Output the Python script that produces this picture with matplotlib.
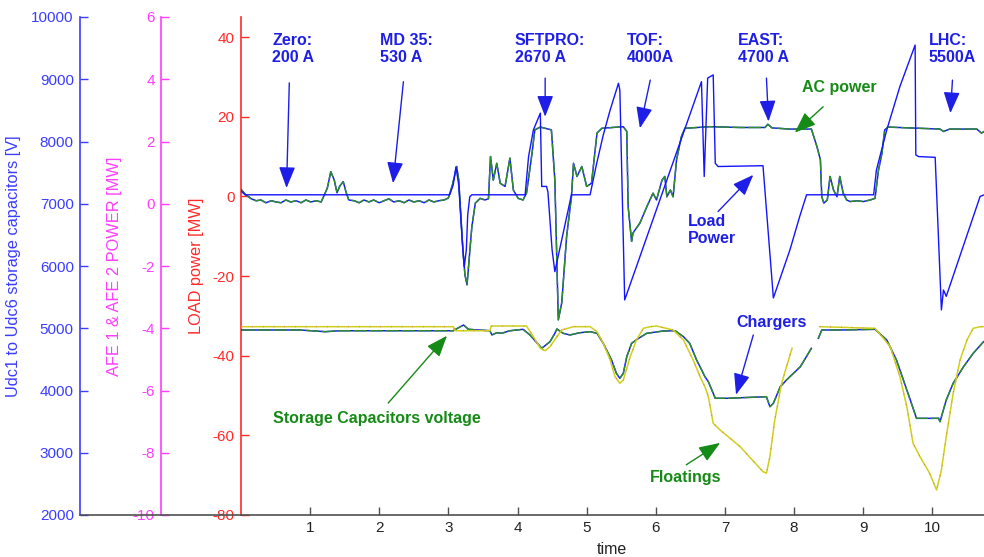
import numpy as np
import matplotlib
matplotlib.use("Agg")
import matplotlib.pyplot as plt
from matplotlib.lines import Line2D

plt.rcParams['font.family'] = ['Liberation Sans', 'DejaVu Sans']
plt.rcParams['axes.unicode_minus'] = False

nan = np.nan

# ---- load power (blue) [MW] vs time ----
load_t = [0.01, 0.06, 3.02, 3.07, 3.11, 3.15, 3.20, 3.23, 3.26, 3.28,
          3.31, 3.34, 4.11, 4.16, 4.23, 4.33, 4.35, 4.42, 4.44, 4.50,
          4.54, 4.78, 5.05, 5.14, 5.24, 5.34, 5.46, 5.48, 5.55, 6.66,
          6.70, 6.75, 6.83, 6.86, 6.90, 7.55, 7.70, 7.94, 8.08, 8.18,
          9.15, 9.19, 9.34, 9.53, 9.75, 9.76, 9.80, 10.04, 10.13, 10.16,
          10.20, 10.69, 10.75]
load_mw = [1.2, 0.4, 0.4, 2.9, 7.4, 2.9, -10.9, -17.7, -13.4, -4.6,
           -0.1, 0.4, 0.4, 10.0, 16.7, 20.9, 2.5, 2.5, 1.1, -13.4,
           -18.9, 0.4, 0.4, 7.9, 15.4, 21.7, 28.4, 26.7, -26.0, 28.8,
           5.0, 29.7, 30.5, 8.3, 7.5, 7.7, -25.5, -13.4, -5.1, 0.4,
           0.4, 6.6, 16.7, 27.6, 38.0, 10.4, 10.0, 9.8, -28.5, -23.5,
           -25.1, 0.0, 0.4]

# ---- AC power (AFE 1 & 2) [MW] vs time ----
ac_t = [0.01, 0.07, 0.15, 0.22, 0.29, 0.36, 0.44, 0.51, 0.58, 0.65,
        0.72, 0.80, 0.87, 0.94, 1.01, 1.09, 1.16, 1.20, 1.25, 1.30,
        1.35, 1.39, 1.43, 1.48, 1.52, 1.56, 1.64, 1.71, 1.78, 1.85,
        1.92, 2.00, 2.07, 2.14, 2.21, 2.29, 2.36, 2.43, 2.50, 2.58,
        2.65, 2.72, 2.79, 2.86, 2.94, 3.00, 3.06, 3.12, 3.15, 3.18,
        3.21, 3.24, 3.27, 3.30, 3.34, 3.39, 3.46, 3.53, 3.58, 3.61,
        3.65, 3.70, 3.75, 3.82, 3.89, 3.94, 4.01, 4.08, 4.13, 4.21,
        4.25, 4.33, 4.49, 4.54, 4.59, 4.64, 4.71, 4.78, 4.81, 4.86,
        4.93, 5.00, 5.07, 5.15, 5.22, 5.53, 5.58, 5.60, 5.65, 5.67,
        5.77, 5.87, 5.96, 6.01, 6.09, 6.13, 6.16, 6.21, 6.25, 6.30,
        6.37, 6.42, 6.78, 7.22, 7.58, 7.62, 7.68, 7.94, 8.25, 8.33,
        8.38, 8.40, 8.43, 8.48, 8.52, 8.57, 8.62, 8.66, 8.71, 8.76,
        8.81, 8.91, 9.00, 9.10, 9.17, 9.22, 9.27, 9.31, 9.36, 10.11,
        10.16, 10.25, 10.64, 10.71, 10.75]
ac_mw = [1.6, 0.4, -0.6, -1.1, -0.9, -1.6, -1.1, -1.4, -1.6, -0.9,
         -1.4, -1.1, -1.6, -0.9, -1.4, -1.1, -1.4, 0.1, 2.1, 6.2,
         4.1, 0.9, 2.6, 3.7, 1.1, -0.9, -1.1, -1.6, -0.9, -1.4,
         -0.9, -1.6, -1.1, -0.6, -1.4, -1.1, -1.6, -0.9, -1.4, -1.1,
         -1.6, -0.9, -1.4, -1.1, -0.9, -0.4, 2.9, 7.5, 4.1, -4.6,
         -13.4, -19.7, -22.2, -15.9, -7.6, -1.7, -0.5, -0.9, -0.6, 10.0,
         4.1, 8.3, 3.3, 2.5, 9.6, 1.6, -0.5, -0.9, 0.8, 10.8,
         16.7, 17.4, 16.7, 4.1, -31.0, -26.7, -10.1, -0.1, 8.3, 5.0,
         7.5, 2.5, 3.3, 15.9, 17.1, 17.5, 16.3, -2.6, -11.3, -9.2,
         -6.7, -2.6, 0.8, -0.9, 4.1, 5.0, -0.1, 1.6, -0.1, 9.2,
         15.0, 17.1, 17.5, 17.3, 17.3, 18.1, 17.2, 16.9, 16.9, 12.5,
         9.2, -0.1, -1.7, -0.9, 5.0, 1.6, -0.1, 5.0, 0.8, -0.9,
         -1.3, -1.1, -1.3, -0.9, -0.5, 6.6, 10.8, 16.7, 17.4, 16.9,
         16.3, 16.9, 16.9, 15.9, 16.3]

# ---- floating capacitor voltages [V] ----
float_t = [0.01, 3.07, 3.10, 3.60, 3.62, 4.13, 4.23, 4.33, 4.40, 4.47,
           4.57, 4.64, 4.81, 5.05, 5.15, 5.24, 5.34, 5.41, 5.48, 5.53,
           5.63, 5.72, 5.82, 5.92, 6.01, 6.25, 6.40, 6.54, 6.64, 6.71,
           6.76, 6.83, 6.93, 7.22, 7.55, 7.60, 7.65, 7.72, 7.82, 7.89,
           7.97, nan, 8.37, 9.17, 9.19, 9.39, 9.53, 9.63, 9.72, 9.82,
           9.96, 10.06, 10.13, 10.20, 10.30, 10.40, 10.50, 10.59, 10.69, 10.75]
float_v = [5025, 5025, 4960, 4960, 5036, 5036, 4864, 4678, 4639, 4704,
           4864, 4972, 5025, 5025, 4945, 4758, 4490, 4222, 4116, 4169,
           4543, 4811, 4999, 5025, 5036, 4972, 4811, 4490, 4222, 4061,
           3900, 3473, 3365, 3097, 2696, 2670, 2937, 3526, 4116, 4382,
           4678, nan, 5025, 4999, 4972, 4704, 4222, 3740, 3152, 2937,
           2670, 2402, 2723, 3258, 3955, 4490, 4811, 4999, 5025, 5025]

# ---- storage capacitors with chargers [V] ----
caps_t = [0.01, 0.85, 1.22, 1.43, 3.07, 3.14, 3.22, 3.29, 3.60, 3.63,
          3.70, 3.77, 3.89, 4.08, 4.18, 4.35, 4.47, 4.54, 4.57, 4.66,
          4.76, 4.90, 5.05, 5.15, 5.24, 5.36, 5.43, 5.48, 5.53, 5.58,
          5.65, 5.75, 5.87, 6.11, 6.28, 6.40, 6.49, 6.59, 6.64, 6.71,
          6.76, 6.86, 7.03, 7.60, 7.65, 7.70, 7.80, 7.89, 8.09, 8.25,
          nan, 8.35, 8.40, 8.66, 9.17, 9.34, 9.48, 9.58, 9.68, 9.77,
          10.09, 10.11, 10.20, 10.30, 10.45, 10.59, 10.74]
caps_v = [4972, 4972, 4945, 4960, 4960, 5004, 5052, 4983, 4960, 4892,
          4928, 4919, 4960, 4983, 4892, 4678, 4784, 4919, 4988, 4919,
          4892, 4928, 4945, 4919, 4758, 4490, 4276, 4196, 4276, 4543,
          4758, 4838, 4919, 4956, 4960, 4864, 4758, 4490, 4382, 4222,
          4141, 3875, 3875, 3900, 3740, 3794, 4061, 4169, 4382, 4678,
          nan, 4838, 4972, 4972, 4983, 4811, 4490, 4169, 3847, 3553,
          3553, 3499, 3847, 4116, 4382, 4598, 4784]

x_ticks = [1, 2, 3, 4, 5, 6, 7, 8, 9, 10]
load_ticks = [-80, -60, -40, -20, 0, 20, 40]
afe_ticks = [-10, -8, -6, -4, -2, 0, 2, 4, 6]
udc_ticks = [2000, 3000, 4000, 5000, 6000, 7000, 8000, 9000, 10000]

C_BLUE_AX = '#3c3cff'
C_MAG = '#ff3cff'
C_RED = '#ff2a2a'
C_LINE_BLUE = '#1414ff'
C_GREEN = '#2e8b2e'
C_TXT_BLUE = '#1e1ee6'
C_TXT_GREEN = '#168a16'
C_YELLOW = '#cfcf1c'
C_SPECK = '#e0307a'
C_GRAY = '#505050'

W, H = 984, 557
fig = plt.figure(figsize=(W / 100, H / 100), dpi=100)
x0, x1, ytop, ybot = 240.9, 984.0, 17.0, 515.0
ax = fig.add_axes([x0 / W, (H - ybot) / H, (x1 - x0) / W, (ybot - ytop) / H])
ax.patch.set_alpha(0)

axv = ax.twinx()
axm = ax.twinx()

ax.set_xlim(0, 10.746)
ax.set_ylim(-80, 45.04)
axv.set_ylim(2000, 10000)
axm.set_ylim(-10, 6)

axes_w = x1 - x0
for a, xpos, col, ticks in [(axv, 80.0, C_BLUE_AX, udc_ticks),
                            (axm, 161.0, C_MAG, afe_ticks)]:
    for s in ('right', 'top', 'bottom'):
        a.spines[s].set_visible(False)
    a.spines['left'].set_visible(True)
    a.spines['left'].set_position(('axes', (xpos - x0) / axes_w))
    a.spines['left'].set_color(col)
    a.spines['left'].set_linewidth(1.2)
    a.yaxis.set_ticks_position('left')
    a.set_yticks(ticks)
    a.set_yticklabels([str(t) for t in ticks])
    a.tick_params(axis='y', direction='in', length=6, width=1.0, colors=col,
                  labelsize=11, pad=4.5)

for s in ('right', 'top'):
    ax.spines[s].set_visible(False)
ax.spines['left'].set_color(C_RED)
ax.spines['left'].set_linewidth(1.2)
ax.spines['bottom'].set_color(C_GRAY)
ax.spines['bottom'].set_linewidth(1.2)
ax.set_yticks(load_ticks)
ax.set_yticklabels([str(t) for t in load_ticks])
ax.tick_params(axis='y', direction='in', length=6, width=1.0, colors=C_RED,
               labelsize=11, pad=4.5)
ax.set_xticks(x_ticks)
ax.tick_params(axis='x', direction='in', length=6, width=1.0, colors=C_GRAY,
               labelcolor='#222222', labelsize=11, pad=4)

# bottom line continuing under the extra y axes
fig.add_artist(Line2D([80 / W, x0 / W], [(H - ybot) / H] * 2, color=C_GRAY,
                      lw=1.2, transform=fig.transFigure))

# ---- data ----
axv.plot(caps_t, caps_v, color=C_LINE_BLUE, lw=1.05)
axv.plot(caps_t, caps_v, color=C_GREEN, lw=1.05, dashes=(9, 2))
axv.plot(float_t, float_v, color=C_YELLOW, lw=1.1)
axv.plot(float_t, float_v, color=C_SPECK, lw=0.8, dashes=(0.6, 9), alpha=0.7)

axm.plot(ac_t, ac_mw, color=C_LINE_BLUE, lw=1.05, transform=ax.transData)
axm.plot(ac_t, ac_mw, color=C_GREEN, lw=1.05, dashes=(9, 2),
         transform=ax.transData)
axm.plot(load_t, load_mw, color=C_LINE_BLUE, lw=1.0, transform=ax.transData)

# ---- axis labels ----
fig.text(14 / W, (H - 266) / H, 'Udc1 to Udc6 storage capacitors [V]',
         rotation=90, ha='center', va='center', color=C_BLUE_AX, fontsize=11.8)
fig.text(115 / W, (H - 266) / H, 'AFE 1 & AFE 2 POWER [MW]',
         rotation=90, ha='center', va='center', color=C_MAG, fontsize=11.8)
fig.text(197 / W, (H - 266) / H, 'LOAD power [MW]',
         rotation=90, ha='center', va='center', color=C_RED, fontsize=11.8)
fig.text(612 / W, (H - 549) / H, 'time', ha='center', va='center',
         color='#222222', fontsize=11.5)

# ---- annotations ----
afont = dict(fontsize=11.5, fontweight='bold')
top_labels = [('Zero:\n200 A', 0.45), ('MD 35:\n530 A', 2.01),
              ('SFTPRO:\n2670 A', 3.96), ('TOF:\n4000A', 5.58),
              ('EAST:\n4700 A', 7.19), ('LHC:\n5500A', 9.95)]
for txt, xt in top_labels:
    axm.text(xt, 40.9, txt, ha='left', va='top', color=C_TXT_BLUE,
             linespacing=1.15, transform=ax.transData, **afont)

axm.text(6.47, -4.4, 'Load\nPower', ha='left', va='top', color=C_TXT_BLUE,
         linespacing=1.15, transform=ax.transData, **afont)
axm.text(8.11, 27.4, 'AC power', ha='left', va='center', color=C_TXT_GREEN,
         transform=ax.transData, **afont)
axm.text(7.16, -31.7, 'Chargers', ha='left', va='center', color=C_TXT_BLUE,
         transform=ax.transData, **afont)
axm.text(5.91, -70.5, 'Floatings', ha='left', va='center', color=C_TXT_GREEN,
         transform=ax.transData, **afont)
axm.text(0.47, -55.8, 'Storage Capacitors voltage', ha='left', va='center',
         color=C_TXT_GREEN, transform=ax.transData, **afont)

arrows = [((0.70, 28.5), (0.66, 2.1), C_TXT_BLUE),
          ((2.35, 28.8), (2.20, 3.3), C_TXT_BLUE),
          ((4.40, 29.7), (4.40, 20.0), C_TXT_BLUE),
          ((5.92, 29.2), (5.77, 17.1), C_TXT_BLUE),
          ((7.60, 29.7), (7.63, 18.8), C_TXT_BLUE),
          ((10.29, 29.2), (10.26, 20.9), C_TXT_BLUE),
          ((6.90, -3.8), (7.41, 5.4), C_TXT_BLUE),
          ((8.42, 22.5), (8.01, 16.0), C_TXT_GREEN),
          ((7.41, -34.8), (7.16, -49.8), C_TXT_BLUE),
          ((6.44, -67.4), (6.93, -61.9), C_TXT_GREEN),
          ((2.13, -51.9), (2.98, -35.0), C_TXT_GREEN)]
for tail, head, col in arrows:
    axm.annotate('', xy=head, xytext=tail, xycoords=ax.transData,
                 textcoords=ax.transData,
                 arrowprops=dict(arrowstyle='-|>,head_length=0.65,head_width=0.25',
                                 mutation_scale=20, lw=1.0, color=col,
                                 shrinkA=0, shrinkB=0))

fig.savefig('out.png', dpi=100)
